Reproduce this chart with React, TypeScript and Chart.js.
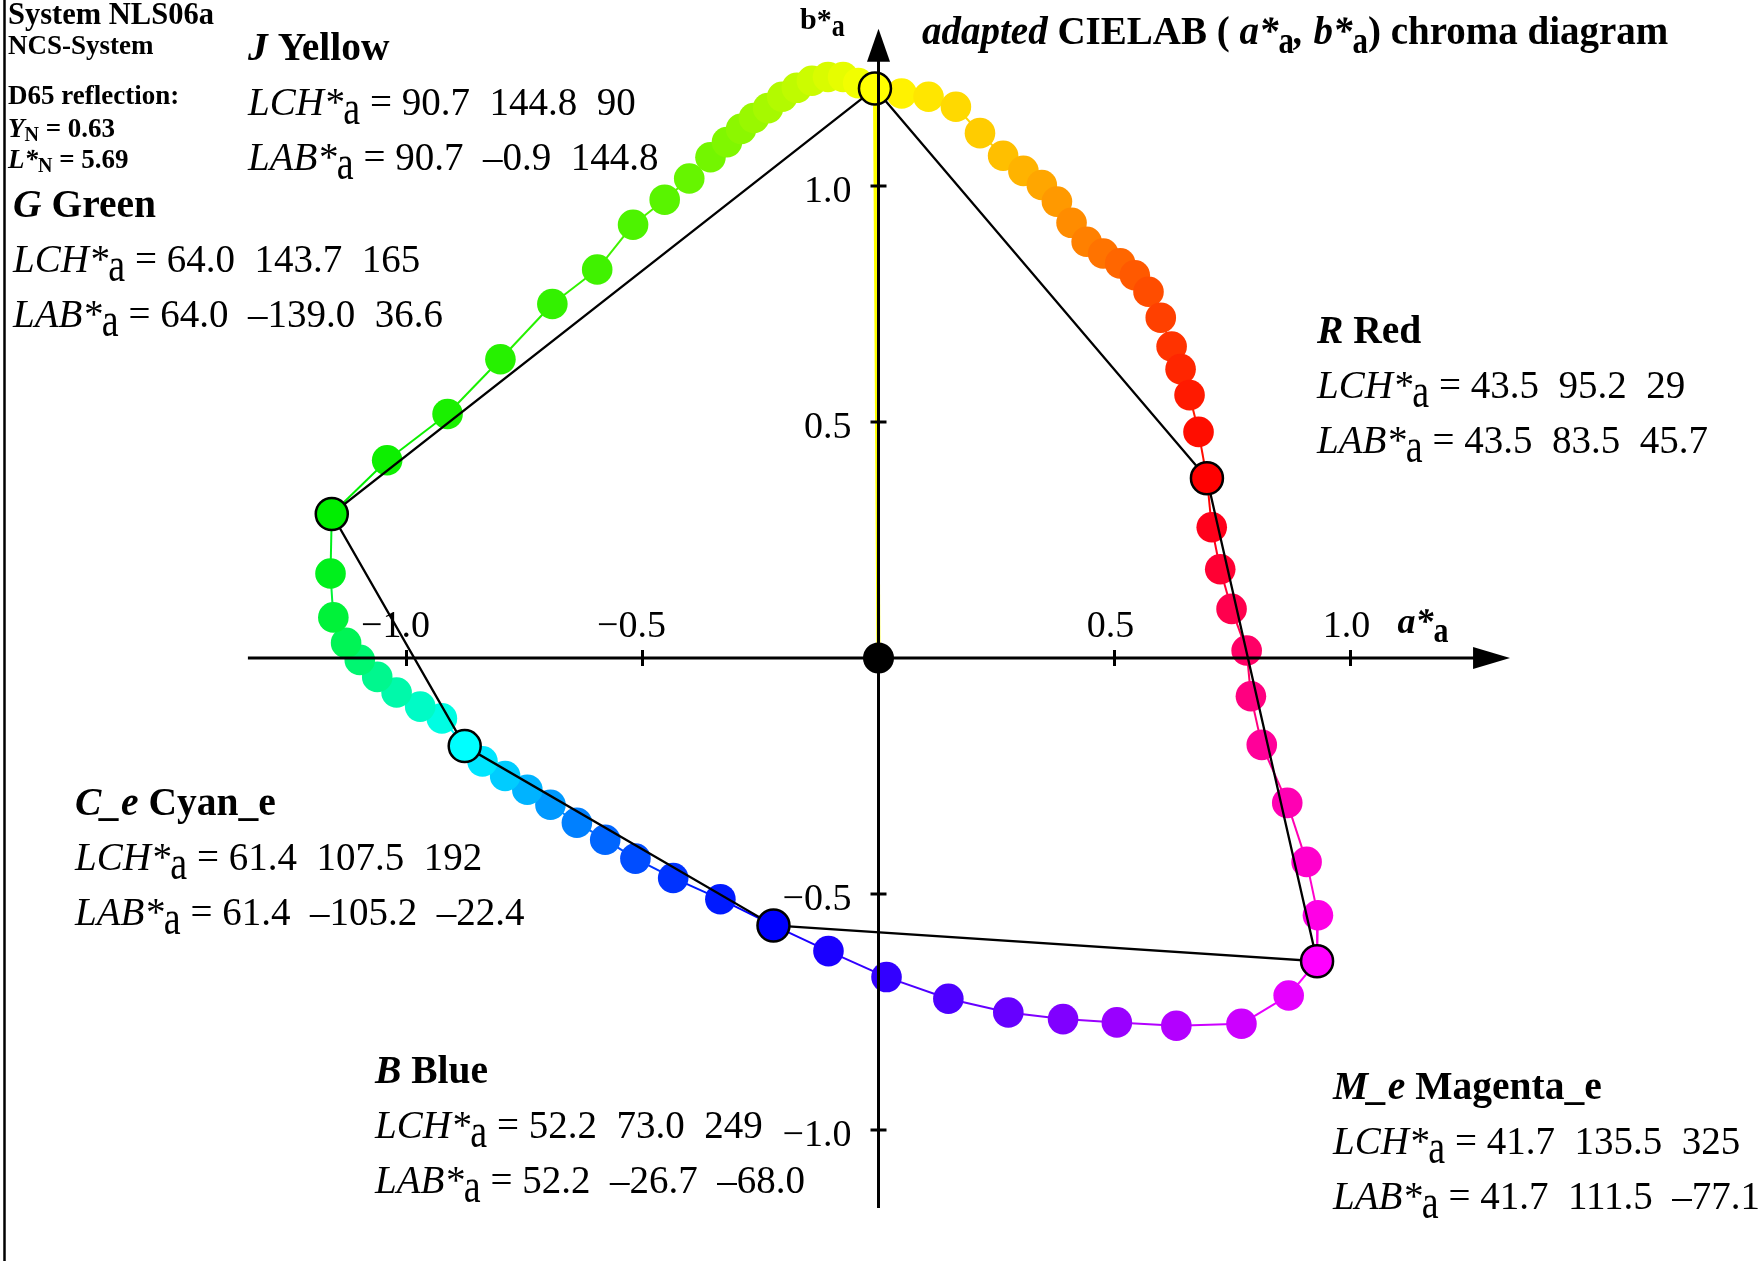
import React, { useEffect, useRef } from "react";
import { Chart, registerables } from "chart.js";

Chart.register(...registerables);

// ---------- DATA ----------
const CHROMA_SCALE = 120; // a*, b* values are plotted as a*/120, b*/120

const keyCodes = ["J", "R", "M_e", "B", "C_e", "G"];
const keyNames = ["Yellow", "Red", "Magenta_e", "Blue", "Cyan_e", "Green"];
const keyL = [90.7, 43.5, 41.7, 52.2, 61.4, 64.0];
const keyC = [144.8, 95.2, 135.5, 73.0, 107.5, 143.7];
const keyH = [90, 29, 325, 249, 192, 165];
const keyA = [-0.9, 83.5, 111.5, -26.7, -105.2, -139.0];
const keyB = [144.8, 45.7, -77.1, -68.0, -22.4, 36.6];
const keyColors = ["#ffff00", "#ff0000", "#ff00ff", "#0000ff", "#00ffff", "#00ee00"];

// intermediate samples (plotted units) between consecutive key colours
const yellowToRed = [
  [0.049, 1.196], [0.106, 1.189], [0.164, 1.168], [0.215, 1.112], [0.264, 1.064],
  [0.307, 1.032], [0.346, 1.002], [0.378, 0.967], [0.409, 0.922], [0.441, 0.882],
  [0.476, 0.857], [0.512, 0.836], [0.543, 0.811], [0.572, 0.776], [0.598, 0.721],
  [0.621, 0.66], [0.64, 0.612], [0.659, 0.557], [0.678, 0.479],
];
const redToMagenta = [
  [0.706, 0.277], [0.724, 0.188], [0.748, 0.104], [0.78, 0.016], [0.789, -0.081],
  [0.812, -0.184], [0.866, -0.307], [0.907, -0.432], [0.931, -0.545],
];
const magentaToBlue = [
  [0.869, -0.715], [0.769, -0.775], [0.631, -0.779], [0.505, -0.772], [0.391, -0.765],
  [0.275, -0.751], [0.148, -0.722], [0.017, -0.676], [-0.106, -0.621],
];
const blueToCyan = [
  [-0.335, -0.511], [-0.435, -0.466], [-0.515, -0.425], [-0.579, -0.385], [-0.639, -0.349],
  [-0.695, -0.311], [-0.744, -0.279], [-0.791, -0.25], [-0.839, -0.219],
];
const cyanToGreen = [
  [-0.925, -0.128], [-0.971, -0.103], [-1.021, -0.073], [-1.062, -0.04], [-1.099, -0.004],
  [-1.128, 0.032], [-1.155, 0.086], [-1.161, 0.179],
];
const greenToYellow = [
  [-1.041, 0.419], [-0.913, 0.517], [-0.801, 0.633], [-0.691, 0.75], [-0.596, 0.823],
  [-0.52, 0.918], [-0.453, 0.971], [-0.401, 1.016], [-0.356, 1.061], [-0.321, 1.093],
  [-0.291, 1.121], [-0.264, 1.144], [-0.234, 1.165], [-0.204, 1.189], [-0.173, 1.208],
  [-0.141, 1.223], [-0.107, 1.231], [-0.075, 1.231], [-0.043, 1.218],
];

const tickValues = [-1.0, -0.5, 0.5, 1.0];
const tickLabels = ["\u22121.0", "\u22120.5", "0.5", "1.0"];
const axisXRange = [-1.336, 1.338];
const axisYRange = [-1.165, 1.333];

// ---------- helpers ----------
const FONT = '"Liberation Serif", "Times New Roman", serif';
const f = (style: string, size: number) => `${style} ${size}px ${FONT}`;

function hexToRgb(h: string) {
  const n = parseInt(h.slice(1), 16);
  return [(n >> 16) & 255, (n >> 8) & 255, n & 255];
}
function mix(c1: string, c2: string, t: number) {
  const a = hexToRgb(c1);
  const b = hexToRgb(c2);
  const r = a.map((v, i) => Math.round(v + (b[i] - v) * t));
  return `rgb(${r[0]},${r[1]},${r[2]})`;
}

type Part = { text: string; font: string; dy?: number; sy?: number };
function drawRich(ctx: CanvasRenderingContext2D, x: number, y: number, parts: Part[]) {
  let cx = x;
  for (const p of parts) {
    ctx.font = p.font;
    const w = ctx.measureText(p.text).width;
    ctx.save();
    ctx.translate(cx, y + (p.dy || 0));
    if (p.sy) ctx.scale(1, p.sy);
    ctx.fillText(p.text, 0, 0);
    ctx.restore();
    cx += w;
  }
}
const fmt = (v: number) => (v < 0 ? "\u2013" + Math.abs(v).toFixed(1) : v.toFixed(1));

// text block anchors (pixels) for the six key colours, same order as keyCodes
const blockPos = [
  [248, 60],
  [1317, 343],
  [1333, 1099],
  [375, 1083],
  [75, 815],
  [13, 217],
];

export default function App() {
  const ref = useRef<HTMLCanvasElement | null>(null);

  useEffect(() => {
    if (!ref.current) return;
    const keyX = keyA.map((v) => v / CHROMA_SCALE);
    const keyY = keyB.map((v) => v / CHROMA_SCALE);
    const segments = [yellowToRed, redToMagenta, magentaToBlue, blueToCyan, cyanToGreen, greenToYellow];

    const loop: { x: number; y: number }[] = [];
    const loopColors: string[] = [];
    segments.forEach((seg, k) => {
      const c0 = keyColors[k];
      const c1 = keyColors[(k + 1) % 6];
      loop.push({ x: keyX[k], y: keyY[k] });
      loopColors.push(c0);
      seg.forEach((p, i) => {
        loop.push({ x: p[0], y: p[1] });
        loopColors.push(mix(c0, c1, (i + 1) / (seg.length + 1)));
      });
    });
    loop.push({ x: keyX[0], y: keyY[0] });
    loopColors.push(keyColors[0]);

    const hexagon = [0, 1, 2, 3, 4, 5, 0].map((i) => ({ x: keyX[i], y: keyY[i] }));
    const keyPts = keyX.map((x, i) => ({ x, y: keyY[i] }));

    const W = 1760, H = 1261, OX = 878.5, OY = 658, PPU = 472;

    const overlay = {
      id: "overlay",
      afterDatasetsDraw(chart: any) {
        const ctx: CanvasRenderingContext2D = chart.ctx;
        const xs = chart.scales.x;
        const ys = chart.scales.y;
        const x0 = xs.getPixelForValue(0);
        const y0 = ys.getPixelForValue(0);
        ctx.save();
        ctx.strokeStyle = "#000";
        ctx.fillStyle = "#000";
        ctx.lineWidth = 3;
        // x axis
        const xl = xs.getPixelForValue(axisXRange[0]);
        const xr = xs.getPixelForValue(axisXRange[1]);
        ctx.beginPath();
        ctx.moveTo(xl, y0);
        ctx.lineTo(xr - 30, y0);
        ctx.stroke();
        ctx.beginPath();
        ctx.moveTo(xr, y0);
        ctx.lineTo(xr - 37, y0 - 11);
        ctx.lineTo(xr - 37, y0 + 11);
        ctx.closePath();
        ctx.fill();
        // y axis
        const yb = ys.getPixelForValue(axisYRange[0]);
        const yt = ys.getPixelForValue(axisYRange[1]);
        ctx.beginPath();
        ctx.moveTo(x0, yb);
        ctx.lineTo(x0, yt + 28);
        ctx.stroke();
        ctx.beginPath();
        ctx.moveTo(x0, yt);
        ctx.lineTo(x0 - 11.5, yt + 33);
        ctx.lineTo(x0 + 11.5, yt + 33);
        ctx.closePath();
        ctx.fill();
        // ticks
        ctx.lineWidth = 3;
        tickValues.forEach((v) => {
          const px = xs.getPixelForValue(v);
          ctx.beginPath();
          ctx.moveTo(px, y0 - 8);
          ctx.lineTo(px, y0 + 8);
          ctx.stroke();
          const py = ys.getPixelForValue(v);
          ctx.beginPath();
          ctx.moveTo(x0 - 8, py);
          ctx.lineTo(x0 + 8, py);
          ctx.stroke();
        });
        // origin point
        ctx.beginPath();
        ctx.arc(x0, y0, 15.5, 0, Math.PI * 2);
        ctx.fill();
        ctx.restore();
      },
      afterDraw(chart: any) {
        const ctx: CanvasRenderingContext2D = chart.ctx;
        const xs = chart.scales.x;
        const ys = chart.scales.y;
        const x0 = xs.getPixelForValue(0);
        const y0 = ys.getPixelForValue(0);
        ctx.save();
        ctx.fillStyle = "#000";
        ctx.textBaseline = "alphabetic";
        // left frame line
        ctx.strokeStyle = "#000";
        ctx.lineWidth = 2.5;
        ctx.beginPath();
        ctx.moveTo(4.5, 0);
        ctx.lineTo(4.5, H);
        ctx.stroke();

        // tick labels
        ctx.font = f("", 38);
        tickValues.forEach((v, i) => {
          const px = xs.getPixelForValue(v);
          ctx.textAlign = "center";
          ctx.fillText(tickLabels[i], px + (v < 0 ? -11 : -4), y0 - 21);
          const py = ys.getPixelForValue(v);
          ctx.textAlign = "right";
          ctx.fillText(tickLabels[i], x0 - 27, py + 16);
        });
        ctx.textAlign = "left";

        // axis labels
        drawRich(ctx, x0 + 519, y0 - 25, [
          { text: "a*", font: f("italic bold", 36) },
          { text: "a", font: f("bold", 30), dy: 9, sy: 1.2 },
        ]);
        drawRich(ctx, 800, 29, [
          { text: "b*", font: f("bold", 30) },
          { text: "a", font: f("bold", 26), dy: 7, sy: 1.2 },
        ]);

        // title
        drawRich(ctx, 922, 44, [
          { text: "adapted", font: f("italic bold", 39) },
          { text: " CIELAB ( ", font: f("bold", 39) },
          { text: "a*", font: f("italic bold", 39) },
          { text: "a", font: f("bold", 31), dy: 9, sy: 1.2 },
          { text: ", ", font: f("italic bold", 39) },
          { text: "b*", font: f("italic bold", 39) },
          { text: "a", font: f("bold", 31), dy: 9, sy: 1.2 },
          { text: ") chroma diagram", font: f("bold", 39) },
        ]);

        // system info block
        drawRich(ctx, 8, 24, [{ text: "System NLS06a", font: f("bold", 30.5) }]);
        drawRich(ctx, 8, 54, [{ text: "NCS-System", font: f("bold", 27) }]);
        drawRich(ctx, 8, 104, [{ text: "D65 reflection:", font: f("bold", 27) }]);
        drawRich(ctx, 8, 137, [
          { text: "Y", font: f("italic bold", 27) },
          { text: "N", font: f("bold", 20), dy: 4 },
          { text: " = 0.63", font: f("bold", 27) },
        ]);
        drawRich(ctx, 8, 168, [
          { text: "L*", font: f("italic bold", 27) },
          { text: "N", font: f("bold", 20), dy: 4 },
          { text: " = 5.69", font: f("bold", 27) },
        ]);

        // key colour blocks
        keyCodes.forEach((code, i) => {
          const [bx, by] = blockPos[i];
          drawRich(ctx, bx, by, [
            { text: code, font: f("italic bold", 39.5) },
            { text: " " + keyNames[i], font: f("bold", 39.5) },
          ]);
          drawRich(ctx, bx, by + 55, [
            { text: "LCH*", font: f("italic", 39) },
            { text: "a", font: f("", 38), dy: 9, sy: 1.3 },
            { text: ` = ${keyL[i].toFixed(1)}  ${keyC[i].toFixed(1)}  ${keyH[i]}`, font: f("", 39) },
          ]);
          drawRich(ctx, bx, by + 110, [
            { text: "LAB*", font: f("italic", 39) },
            { text: "a", font: f("", 38), dy: 9, sy: 1.3 },
            { text: ` = ${keyL[i].toFixed(1)}  ${fmt(keyA[i])}  ${fmt(keyB[i])}`, font: f("", 39) },
          ]);
        });
        ctx.restore();
      },
    };

    const chart = new Chart(ref.current, {
      type: "scatter",
      data: {
        datasets: [
          {
            // key colours (on top)
            data: keyPts,
            pointRadius: 16,
            pointBackgroundColor: keyColors,
            pointBorderColor: "#000",
            pointBorderWidth: 2.5,
            showLine: false,
            order: 1,
          },
          {
            // connecting hexagon of key colours
            data: hexagon,
            showLine: true,
            borderColor: "#000",
            borderWidth: 2.3,
            pointRadius: 0,
            order: 2,
          },
          {
            // sampled hue circle
            data: loop,
            showLine: true,
            borderWidth: 2,
            borderColor: loopColors[0],
            segment: {
              borderColor: (c: any) => loopColors[c.p0DataIndex],
            },
            pointRadius: 15.3,
            pointBorderWidth: 0,
            pointBackgroundColor: loopColors,
            pointBorderColor: loopColors,
            order: 3,
          },
          {
            // yellow chroma line from origin
            data: [{ x: 0, y: 0 }, { x: keyX[0], y: keyY[0] }],
            showLine: true,
            borderColor: "#ffff00",
            borderWidth: 4,
            pointRadius: 0,
            order: 4,
          },
        ],
      },
      options: {
        animation: false,
        responsive: false,
        devicePixelRatio: 1,
        events: [],
        layout: { padding: 0, autoPadding: false },
        plugins: { legend: { display: false }, tooltip: { enabled: false } },
        scales: {
          x: { type: "linear", display: false, min: -OX / PPU, max: (W - OX) / PPU },
          y: { type: "linear", display: false, min: -(H - OY) / PPU, max: OY / PPU },
        },
      },
      plugins: [overlay],
    } as any);
    return () => chart.destroy();
  }, []);

  return (
    <div style={{ position: "absolute", left: 0, top: 0, width: 1760, height: 1261, background: "#fff" }}>
      <canvas ref={ref} width={1760} height={1261} style={{ display: "block" }} />
    </div>
  );
}
